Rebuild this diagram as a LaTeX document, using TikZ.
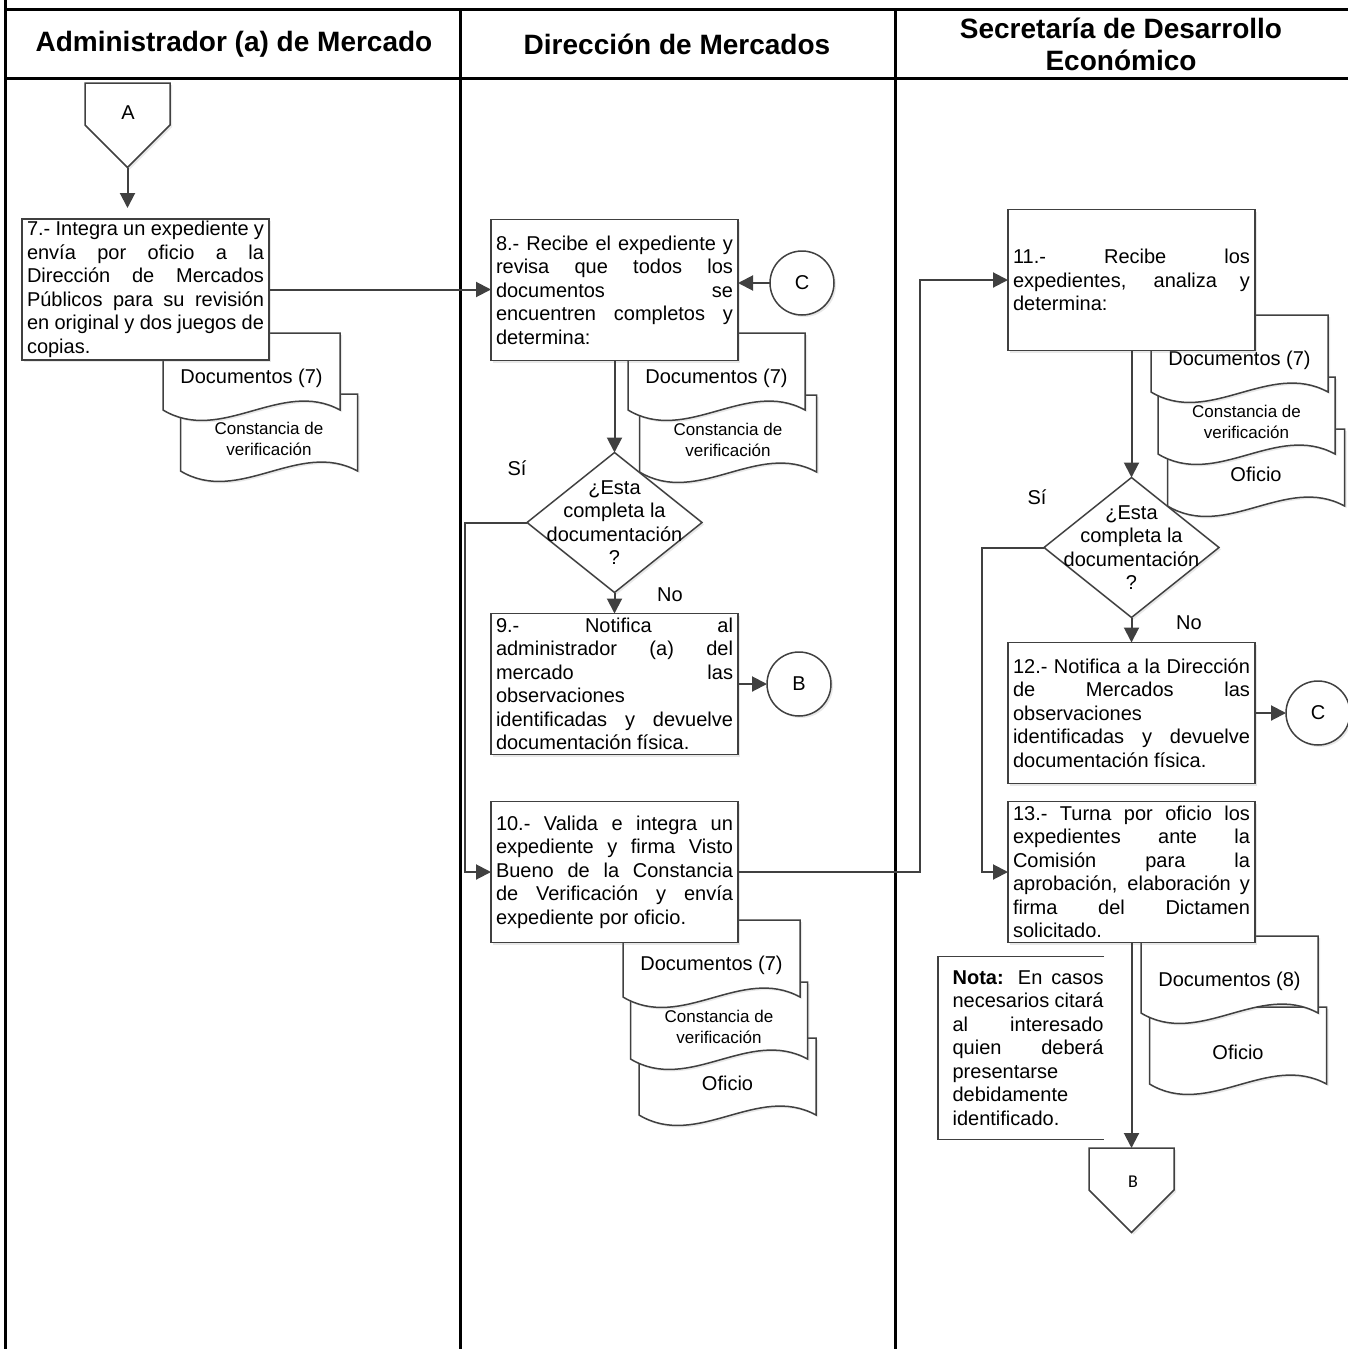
\documentclass[tikz,border=0pt]{standalone}
\usepackage{fontspec}
\setmainfont{Liberation Sans}
\newfontfamily\calibrifont{Carlito}
\usetikzlibrary{arrows.meta, positioning, shapes.geometric, shapes.symbols, shadows}
\definecolor{linegray}{HTML}{404040}
\hyphenpenalty=10000
\exhyphenpenalty=10000

\begin{document}
\begin{tikzpicture}[
    x=0.5pt, y=-0.5pt,
    font=\fontsize{10pt}{11.75pt}\selectfont,
    lane/.style={line width=1.5pt, black},
    head/.style={font=\fontsize{14pt}{16pt}\selectfont\bfseries, align=center},
    shadowed/.style={drop shadow={shadow xshift=1pt, shadow yshift=-1pt, opacity=0.18}},
    proc/.style={draw=linegray, line width=0.75pt, fill=white, shadowed, minimum width=123.5pt, minimum height=70.5pt, text width=118.5pt, inner xsep=2.5pt, inner ysep=0pt, outer sep=0pt, align=justify},
    decision/.style={diamond, draw=linegray, line width=0.75pt, fill=white, shadowed, minimum width=87.5pt, minimum height=70pt, inner sep=0pt, outer sep=0pt},
    conn/.style={circle, draw=linegray, line width=0.75pt, fill=white, shadowed, minimum size=32pt, inner sep=0pt, outer sep=0pt},
    offpage/.style={signal, signal to=south, signal from=nowhere, draw=linegray, line width=0.75pt, fill=white, shadowed, minimum width=42.5pt, minimum height=21pt, inner sep=0pt, outer sep=0pt},
    docline/.style={draw=linegray, line width=0.75pt, fill=white, shadowed},
    pics/doc/.style={code={
        \path[docline] (-88.5,0) -- (88.5,0) -- (88.5,77) .. controls (30,45) and (-30,112) .. (-88.5,77) -- cycle;
        \node[align=center] (-t) at (0,45) {#1};
    }},
    small/.style={font=\fontsize{8.5pt}{10.5pt}\selectfont},
    nota/.style={text width=75.5pt, align=justify, inner sep=0pt, minimum height=91pt},
    bracket/.style={draw=linegray, line width=0.75pt},
    flow/.style={draw=linegray, line width=1pt, -{Triangle[length=7.5pt, width=7.5pt]}},
]
\useasboundingbox (0,0) rectangle (1348,1349);

% table
\draw[lane] (5,0) -- (5,1349);
\draw[lane] (5,9) -- (1348,9);
\draw[lane] (5,78) -- (1348,78);
\draw[lane] (460,9) -- (460,1349);
\draw[lane] (895,9) -- (895,1349);

\node[head] (h1) at (234,44) {Administrador (a) de Mercado};
\node[head] (h2) at (677,44) {Dirección de Mercados};
\node[head] (h3) at (1121,44) {Secretaría de Desarrollo\\Económico};

% documents
\pic[small] (d7b) at (269,394) {doc={Constancia de\\verificación}};
\pic (d7a) at (251.5,333) {doc={Documentos (7)}};
\pic[small] (d8b) at (728,395) {doc={Constancia de\\verificación}};
\pic (d8a) at (716.5,333) {doc={Documentos (7)}};
\pic (d10c) at (727.5,1038) {doc={Oficio}};
\pic[small] (d10b) at (719,982) {doc={Constancia de\\verificación}};
\pic (d10a) at (711.5,920) {doc={Documentos (7)}};
\pic (d11c) at (1256,429) {doc={Oficio}};
\pic[small] (d11b) at (1246.5,377) {doc={Constancia de\\verificación}};
\pic (d11a) at (1239.5,315) {doc={Documentos (7)}};
\pic (d13b) at (1238,1007) {doc={Oficio}};
\pic (d13a) at (1229.5,936) {doc={Documentos (8)}};

% Administrador
\node[offpage] (offA) at (127.5,104) {};
\node (offAt) at (128,113) {A};
\node[proc] (b7) at (145.5,289.5) {7.- Integra un expediente y\linebreak envía por oficio a la\linebreak Dirección de Mercados\linebreak Públicos para su revisión\linebreak en original y dos juegos de\linebreak copias.};

% Direccion
\node[proc] (b8) at (614.5,290) {8.- Recibe el expediente y\linebreak revisa que todos los\linebreak documentos se\linebreak encuentren completos y\linebreak determina:};
\node[conn] (cC1) at (802,283) {C};
\node[decision, below=46pt of b8] (q1) {};
\node[align=center] (q1t) at (q1) {¿Esta\\completa la\\documentación\\?};
\node[proc, below=10.5pt of q1] (b9) {9.- Notifica al\linebreak administrador (a) del\linebreak mercado las\linebreak observaciones\linebreak identificadas y devuelve\linebreak documentación física.};
\node[conn] (cB1) at (799,684) {B};
\node[proc, below=23.5pt of b9] (b10) {10.- Valida e integra un\linebreak expediente y firma Visto\linebreak Bueno de la Constancia\linebreak de Verificación y envía\linebreak expediente por oficio.};
\node (si1) at (517,468) {Sí};
\node (no1) at (670,595) {No};

% Secretaria
\node[proc] (b11) at (1131.5,280) {11.- Recibe los\linebreak expedientes, analiza y\linebreak determina:};
\node[decision, below=63.5pt of b11] (q2) {};
\node[align=center] (q2t) at (q2) {¿Esta\\completa la\\documentación\\?};
\node[proc, below=12.5pt of q2] (b12) {12.- Notifica a la Dirección\linebreak de Mercados las\linebreak observaciones\linebreak identificadas y devuelve\linebreak documentación física.};
\node[conn] (cC2) at (1318,713) {C};
\node[proc, below=9pt of b12] (b13) {13.- Turna por oficio los\linebreak expedientes ante la\linebreak Comisión para la\linebreak aprobación, elaboración y\linebreak firma del Dictamen\linebreak solicitado.};
\node[offpage, below=102.75pt of b13] (offB) {};
\node[font=\calibrifont\fontsize{9pt}{10pt}\selectfont] (offBt) at (1133,1182) {B};
\node[nota, anchor=east] (nota) at (1104,1048) {\textbf{Nota:} En casos\linebreak necesarios citará\linebreak al interesado\linebreak quien deberá\linebreak presentarse\linebreak debidamente\linebreak identificado.};
\draw[bracket] (nota.north east) -- ++(-166,0) |- (nota.south east);
\node (si2) at (1037,497) {Sí};
\node (no2) at (1189,623) {No};

% connectors
\draw[flow, shorten >=5.5pt] (offA.south) -- (offA.south |- b7.north);
\draw[flow] (b7.east) -- (b7.east -| b8.west);
\draw[flow] (cC1.west) -- (cC1.west -| b8.east);
\draw[flow] (b8.south) -- (q1.north);
\draw[flow] (q1.south) -- (b9.north);
\draw[flow] (cB1.west -| b9.east) -- (cB1.west);
\draw[flow] (q1.west) -- ++(-62,0) |- (b10.west);
\draw[flow] (b10.east) -- ++(182,0) |- (b11.west);
\draw[flow] (b11.south) -- (q2.north);
\draw[flow] (q2.south) -- (b12.north);
\draw[flow] (cC2.west -| b12.east) -- (cC2.west);
\draw[flow] (q2.west) -- ++(-62,0) |- (b13.west);
\draw[flow] (b13.south) -- (offB.north);

\end{tikzpicture}
\end{document}
